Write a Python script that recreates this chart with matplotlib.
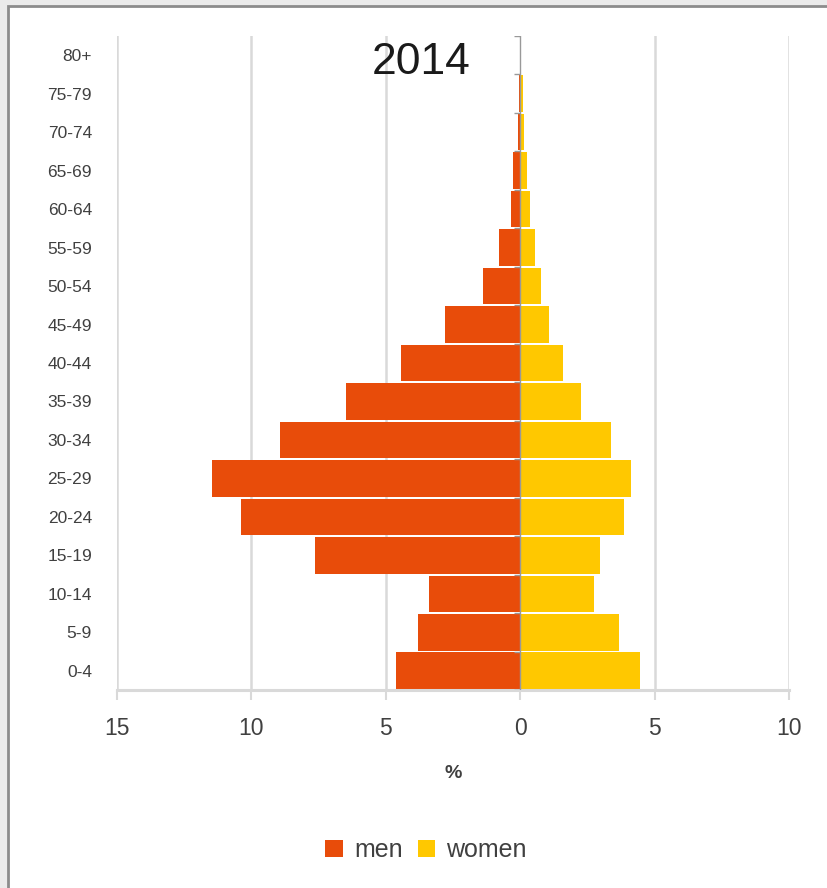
import matplotlib
matplotlib.use("Agg")
import matplotlib.pyplot as plt
from matplotlib.patches import Rectangle, Patch
import numpy as np

ages = ['0-4', '5-9', '10-14', '15-19', '20-24', '25-29', '30-34', '35-39',
        '40-44', '45-49', '50-54', '55-59', '60-64', '65-69', '70-74', '75-79', '80+']
men = [4.61, 3.81, 3.40, 7.65, 10.39, 11.45, 8.93, 6.47, 4.43, 2.79, 1.40, 0.78,
       0.35, 0.25, 0.09, 0.03, 0.01]
women = [4.46, 3.67, 2.76, 2.96, 3.88, 4.12, 3.39, 2.27, 1.61, 1.08, 0.77, 0.56,
         0.35, 0.25, 0.15, 0.10, 0.02]
xticks = [-15, -10, -5, 0, 5, 10]
xticklabels = ['15', '10', '5', '0', '5', '10']
title = '2014'

MEN_C = '#E84C0A'
WOMEN_C = '#FFC800'
GRID_C = '#d9d9d9'
TXT_C = '#404040'

reg = ['Liberation Sans', 'DejaVu Sans']

fig = plt.figure(figsize=(8.27, 8.88), dpi=100)
fig.patch.set_facecolor('#ebebeb')
fig.patches.append(Rectangle((8 / 827, -0.02), 1.05, 1.02 - 6 / 888,
                             transform=fig.transFigure, facecolor='white',
                             edgecolor='#8c8c8c', linewidth=2, zorder=-5))

ax = fig.add_axes([117 / 827, 1 - 690 / 888, (789 - 117) / 827, (690 - 36) / 888])
ax.set_facecolor('none')
ax.set_zorder(2)

y = np.arange(len(ages))
ax.barh(y, [-v for v in men], height=0.95, color=MEN_C, zorder=2, label='men')
ax.barh(y, women, height=0.95, color=WOMEN_C, zorder=2, label='women')

ax.set_xlim(-15, 10)
ax.set_ylim(-0.5, len(ages) - 0.5)

# gridlines
for xv in xticks:
    if xv != 0:
        ax.axvline(xv, color=GRID_C, lw=1.8, zorder=1)
# zero axis with category ticks
ax.axvline(0, color='#999999', lw=1.0, zorder=3)
bounds = np.arange(len(ages) + 1) - 0.5
ax.hlines(bounds, -0.22, 0, color='#999999', lw=1.0, zorder=3)

for s in ['top', 'right', 'left']:
    ax.spines[s].set_visible(False)
ax.spines['bottom'].set_color(GRID_C)
ax.spines['bottom'].set_linewidth(2.2)

ax.set_xticks(xticks)
ax.set_xticklabels(xticklabels, fontsize=16.5, family=reg, color=TXT_C)
ax.tick_params(axis='x', direction='out', length=7.5, width=1.5, color=GRID_C, pad=12)
ax.set_yticks(y)
ax.set_yticklabels(ages, fontsize=12.5, family=reg, color=TXT_C)
ax.tick_params(axis='y', length=0, pad=18)

ax.set_xlabel('%', fontsize=14, fontweight='bold', family=reg, color=TXT_C, labelpad=18)

fig.text(421 / 827, 1 - 62 / 888, title, ha='center', va='center', fontsize=32,
         family=reg, color='#1a1a1a', zorder=5)

handles = [Patch(facecolor=MEN_C), Patch(facecolor=WOMEN_C)]
leg = fig.legend(handles, ['men', 'women'], loc='center', bbox_to_anchor=(426 / 827, 1 - 850 / 888),
                 ncol=2, frameon=False, handlelength=0.7, handleheight=0.7, handletextpad=0.45,
                 columnspacing=0.6, prop={'family': reg, 'size': 18})
for t in leg.get_texts():
    t.set_color(TXT_C)

fig.savefig('out.png', dpi=100, facecolor=fig.get_facecolor())
